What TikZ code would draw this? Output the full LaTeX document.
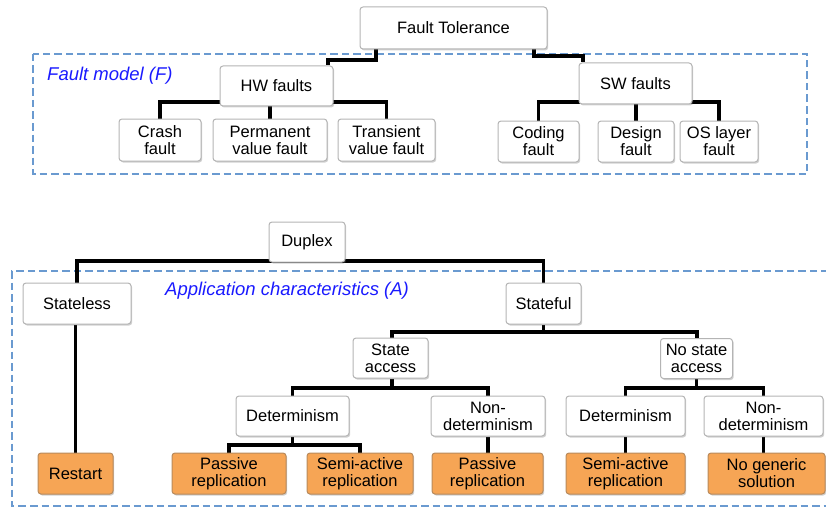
\documentclass[tikz,border=0pt]{standalone}
\usepackage{fontspec}
\setmainfont{Liberation Sans}
\usetikzlibrary{shadows,backgrounds}
\definecolor{boxborder}{HTML}{B4B4B4}
\definecolor{orangefill}{HTML}{F6A555}
\definecolor{orangeborder}{HTML}{B88A5C}
\definecolor{dashblue}{HTML}{6A9AD0}
\definecolor{labelblue}{HTML}{1A1AFF}
\tikzset{
 box/.style={draw=boxborder, line width=1pt, fill=white, rounded corners=3pt, align=center, inner sep=1pt,
   font=\fontsize{16.5}{17}\selectfont,
   drop shadow={shadow xshift=1.2pt, shadow yshift=-1.5pt, opacity=0.3, fill=black!60}},
 leaf/.style={box, fill=orangefill, draw=orangeborder},
 conn/.style={line width=3.4pt, draw=black},
 region/.style={draw=dashblue, line width=2.4pt, dash pattern=on 7.5pt off 4pt},
 tag/.style={text=labelblue, font=\fontsize{18.5}{20}\selectfont\itshape, anchor=west, inner sep=0pt},
}
\begin{document}
\begin{tikzpicture}[x=1pt,y=-1pt]
\useasboundingbox (0,0) rectangle (826,508);
% ---- Fault model part
\node[box, minimum width=187pt, minimum height=42pt] (ft) at (453.5,28) {Fault Tolerance};
\node[box, minimum width=113pt, minimum height=40pt] (hw) at (276.5,86) {HW faults};
\node[box, minimum width=113pt, minimum height=41pt] (sw) at (635.5,83.5) {SW faults};
\node[box, minimum width=82pt, minimum height=42pt] (crash) at (160,140) {Crash\\fault};
\node[box, minimum width=114pt, minimum height=42pt] (perm) at (270,140) {Permanent\\value fault};
\node[box, minimum width=97pt, minimum height=42pt] (trans) at (386.5,140) {Transient\\value fault};
\node[box, minimum width=81pt, minimum height=41pt] (coding) at (538.5,141.5) {Coding\\fault};
\node[box, minimum width=76pt, minimum height=41pt] (design) at (636,141.5) {Design\\fault};
\node[box, minimum width=78pt, minimum height=41pt] (oslayer) at (719,141.5) {OS layer\\fault};
\node[tag] (fmodel) at (47,76) {Fault model (F)};
% ---- Application part
\node[box, minimum width=76pt, minimum height=40pt] (duplex) at (307,242) {Duplex};
\node[box, minimum width=108pt, minimum height=41pt] (stateless) at (77,303.5) {Stateless};
\node[box, minimum width=75pt, minimum height=41pt] (stateful) at (543.5,303.5) {Stateful};
\node[box, minimum width=75pt, minimum height=40pt] (sacc) at (390.5,358) {State\\access};
\node[box, minimum width=72pt, minimum height=40pt] (nsacc) at (696.5,358.5) {No state\\access};
\node[box, minimum width=113pt, minimum height=40pt] (detA) at (292.5,416) {Determinism};
\node[box, minimum width=114pt, minimum height=40pt] (ndetA) at (488,416) {Non-\\determinism};
\node[box, minimum width=119pt, minimum height=40pt] (detB) at (625.5,416) {Determinism};
\node[box, minimum width=119pt, minimum height=40pt] (ndetB) at (763.5,416) {Non-\\determinism};
\node[leaf, minimum width=75pt, minimum height=41pt] (restart) at (75.5,473.5) {Restart};
\node[leaf, minimum width=114pt, minimum height=41pt] (passA) at (229,473.5) {Passive\\replication};
\node[leaf, minimum width=106pt, minimum height=41pt] (semiA) at (360,473.5) {Semi-active\\replication};
\node[leaf, minimum width=111pt, minimum height=41pt] (passB) at (487.5,473.5) {Passive\\replication};
\node[leaf, minimum width=119pt, minimum height=41pt] (semiB) at (625.5,473.5) {Semi-active\\replication};
\node[leaf, minimum width=117pt, minimum height=41pt] (nogen) at (766.5,473.5) {No generic\\solution};
\node[tag] (appchar) at (165,291) {Application characteristics (A)};
% ---- background: regions and connectors
\begin{pgfonlayer}{background}
\draw[region] (33,54) rectangle (807,174);
\draw[region] (840,271) -- (12,271) -- (12,506) -- (840,506);
% fault tolerance
\draw[conn] (376,0 |- ft.south) -- (376,60) -- (328,60) -- (328,0 |- hw.north);
\draw[conn] (534,0 |- ft.south) -- (534,56) -- (583,56) -- (583,0 |- sw.north);
\draw[conn] (crash.north) -- (crash.north |- 0,102) -- (trans.north |- 0,102) -- (trans.north);
\draw[conn] (hw.south -| perm.north) -- (perm.north);
\draw[conn] (coding.north) -- (coding.north |- 0,102) -- (oslayer.north |- 0,102) -- (oslayer.north);
\draw[conn] (sw.south -| design.north) -- (design.north);
% duplex
\draw[conn] (stateless.north) -- (stateless.north |- 0,261) -- (stateful.north |- 0,261) -- (stateful.north);
\draw[conn] (restart.north |- stateless.south) -- (restart.north);
\draw[conn] (stateful.south) -- (stateful.south |- 0,332);
\draw[conn] (392,0 |- sacc.north) -- (392,332) -- (697,332) -- (697,0 |- nsacc.north);
\draw[conn] (sacc.south -| 392,0) -- (392,388);
\draw[conn] (detA.north) -- (detA.north |- 0,388) -- (ndetA.north |- 0,388) -- (ndetA.north);
\draw[conn] (nsacc.south) -- (nsacc.south |- 0,388);
\draw[conn] (detB.north) -- (detB.north |- 0,388) -- (ndetB.north |- 0,388) -- (ndetB.north);
\draw[conn] (detA.south) -- (detA.south |- 0,445);
\draw[conn] (passA.north) -- (passA.north |- 0,445) -- (semiA.north |- 0,445) -- (semiA.north);
\draw[conn] (ndetA.south) -- (passB.north -| ndetA.south);
\draw[conn] (detB.south) -- (semiB.north -| detB.south);
\draw[conn] (ndetB.south) -- (nogen.north -| ndetB.south);
\end{pgfonlayer}
\end{tikzpicture}
\end{document}
